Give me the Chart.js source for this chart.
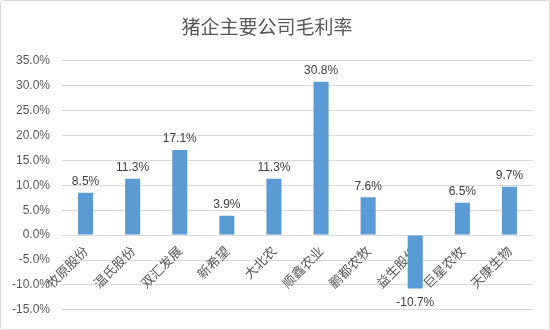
<!DOCTYPE html>
<html>
<head>
<meta charset="utf-8">
<script src="https://cdn.jsdelivr.net/npm/chart.js@4/dist/chart.umd.min.js"></script>
<style>
  body { margin: 0; background: #fff; }
  #box { width: 548px; height: 328px; border: 1px solid #d9d9d9; border-radius: 3px; }
</style>
</head>
<body>
<div id="box"><canvas id="chart-area" width="548" height="328"></canvas></div>
<script>
var companies = ["牧原股份", "温氏股份", "双汇发展", "新希望", "大北农", "顺鑫农业", "鹏都农牧", "益生股份", "巨星农牧", "天康生物"];
var margins = [8.5, 11.3, 17.1, 3.9, 11.3, 30.8, 7.6, -10.7, 6.5, 9.7];
var yMin = -15, yMax = 35, yStep = 5;

var valueLabels = {
  id: 'valueLabels',
  afterDatasetsDraw: function(chart) {
    var ctx = chart.ctx;
    var meta = chart.getDatasetMeta(0);
    ctx.save();
    ctx.font = '12px "Liberation Sans", "DejaVu Sans", sans-serif';
    ctx.fillStyle = '#404040';
    ctx.textAlign = 'center';
    meta.data.forEach(function(bar, i) {
      var v = margins[i];
      if (v >= 0) {
        ctx.textBaseline = 'bottom';
        ctx.fillText(v.toFixed(1) + '%', bar.x, bar.y - 5);
      } else {
        ctx.textBaseline = 'top';
        ctx.fillText(v.toFixed(1) + '%', bar.x, bar.y + 8);
      }
    });
    ctx.restore();
  }
};

var config = {
  type: 'bar',
  data: {
    labels: companies,
    datasets: [{
      data: margins,
      backgroundColor: '#5b9bd5',
      barPercentage: 0.4,
      categoryPercentage: 0.8
    }]
  },
  options: {
    responsive: false,
    animation: false,
    layout: { padding: { left: 0, right: 16, top: 0, bottom: 15 } },
    plugins: {
      legend: { display: false },
      tooltip: { enabled: false },
      title: {
        display: true,
        text: '猪企主要公司毛利率',
        color: '#595959',
        font: { size: 19, family: '"Noto Sans CJK SC", sans-serif', weight: 'normal' },
        padding: { top: 14, bottom: 23 }
      }
    },
    scales: {
      x: {
        position: { y: 0 },
        grid: { display: false },
        border: { display: false },
        ticks: {
          color: '#595959',
          font: { size: 13, family: '"Noto Sans CJK SC", sans-serif' },
          minRotation: 45,
          maxRotation: 45,
          padding: 0,
          autoSkip: false
        }
      },
      y: {
        min: yMin,
        max: yMax,
        afterFit: function(scale) { scale.width = 61; },
        grid: { color: '#d9d9d9', drawTicks: false },
        border: { display: false },
        ticks: {
          stepSize: yStep,
          color: '#595959',
          padding: 12,
          font: { size: 12, family: '"Liberation Sans", "DejaVu Sans", sans-serif' },
          callback: function(v) { return v.toFixed(1) + '%'; }
        }
      }
    }
  },
  plugins: [valueLabels]
};

window.onload = function() {
  var ctx = document.getElementById("chart-area").getContext("2d");
  window.myBar = new Chart(ctx, config);
};
</script>
</body>
</html>
